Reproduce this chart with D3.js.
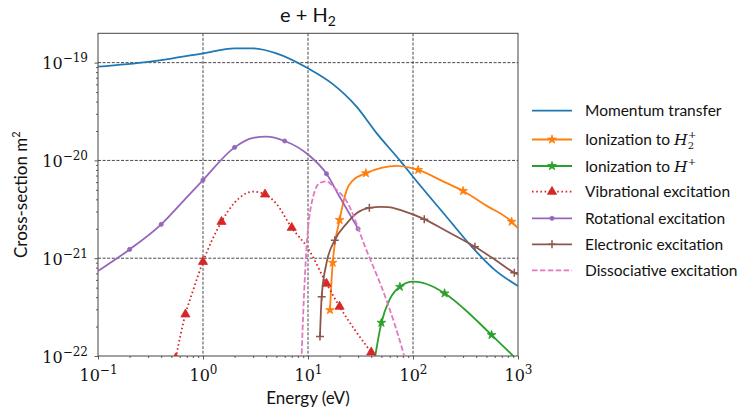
<!DOCTYPE html>
<html>
<head>
<meta charset="utf-8">
<script src="https://cdn.jsdelivr.net/npm/d3@7"></script>
<style>
  body { margin: 0; background: #fff; }
  .lbl { font-family: Lato, "DejaVu Sans", sans-serif; fill: #111; }
  .tk { font-family: "DejaVu Serif", serif; fill: #111; }
</style>
</head>
<body>
<div id="chart"></div>
<script>
// ---- data ----
var momE = [0.1, 0.3, 0.5, 1, 2, 3, 5, 10, 17, 29, 45, 75, 100, 200, 375, 600, 1000];
var momS = [9.1e-20, 1.02e-19, 1.1e-19, 1.245e-19, 1.4e-19, 1.4e-19, 1.245e-19, 8.75e-20, 6.1e-20, 3.55e-20, 1.9e-20, 1.0e-20, 6.8e-21, 2.8e-21, 1.26e-21, 7.6e-22, 5.2e-22];

var ionH2E = [16.2, 17.2, 20, 23.4, 27, 35.6, 50, 70, 100, 112, 200, 300, 500, 870, 1000];
var ionH2S = [2.95e-22, 9.0e-22, 2.46e-21, 5.0e-21, 6.3e-21, 7.4e-21, 8.4e-21, 8.8e-21, 8.3e-21, 8.0e-21, 6.0e-21, 4.87e-21, 3.45e-21, 2.36e-21, 2.02e-21];
var ionH2Marks = [0, 1, 2, 5, 9, 11, 13];

var ionHE = [43, 50, 60, 75, 100, 150, 200, 300, 560, 900, 1000];
var ionHS = [9.0e-23, 2.19e-22, 3.8e-22, 5.1e-22, 5.75e-22, 5.2e-22, 4.37e-22, 3.1e-22, 1.64e-22, 1.0e-22, 8.9e-23];
var ionHMarks = [1, 3, 6, 8];

var vibE = [0.55, 0.68, 0.8, 1, 1.5, 2, 3, 3.9, 5, 7, 10, 15, 20, 40];
var vibS = [0.95e-22, 2.67e-22, 4.6e-22, 9.2e-22, 2.36e-21, 3.7e-21, 4.8e-21, 4.5e-21, 3.6e-21, 2.05e-21, 1.26e-21, 5.5e-22, 3.2e-22, 1.09e-22];
var vibMarks = [0, 1, 3, 4, 7, 9, 11, 12, 13];

var rotE = [0.1, 0.2, 0.4, 0.7, 1, 2, 3, 4, 6, 10, 15, 20, 30];
var rotS = [7.4e-22, 1.23e-21, 2.22e-21, 4.2e-21, 6.3e-21, 1.36e-20, 1.7e-20, 1.75e-20, 1.58e-20, 1.15e-20, 7.3e-21, 4.25e-21, 2.0e-21];
var rotMarks = [1, 2, 4, 5, 8, 10, 12];

var eleE = [13, 13.5, 15, 18, 23.4, 29, 38.4, 50, 58, 80, 128, 200, 389, 600, 922, 1000];
var eleS = [1.58e-22, 4.04e-22, 8.9e-22, 1.53e-21, 2.27e-21, 2.88e-21, 3.28e-21, 3.35e-21, 3.33e-21, 3.05e-21, 2.51e-21, 1.94e-21, 1.31e-21, 9.7e-22, 7.1e-22, 6.8e-22];
var eleMarks = [0, 1, 3, 6, 10, 12, 14];

var disE = [8.5, 9, 9.7, 11.2, 13, 15, 18, 23.4, 36, 56, 81, 90];
var disS = [5e-23, 2.7e-22, 1.31e-21, 4.26e-21, 5.9e-21, 6.1e-21, 5.2e-21, 3.8e-21, 1.21e-21, 3.7e-22, 1.07e-22, 7e-23];

var xTicks = [-1, 0, 1, 2, 3];       // exponents
var yTicks = [-22, -21, -20, -19];
var legendNames = ["Momentum transfer", "Ionization to H2+", "Ionization to H+", "Vibrational excitation",
                   "Rotational excitation", "Electronic excitation", "Dissociative excitation"];

// ---- layout ----
var svgWidth = 753;
var svgHeight = 418;
var margin = { top: 33.3, left: 98 };
var chartWidth = 420;
var chartHeight = 322.7;

var svg = d3.select("#chart")
  .append("svg")
  .attr("width", svgWidth)
  .attr("height", svgHeight);

var chartGroup = svg.append("g")
  .attr("transform", `translate(${margin.left}, ${margin.top})`);

var xScale = d3.scaleLog().domain([0.1, 1000]).range([0, chartWidth]);
var yScale = d3.scaleLog().domain([1e-22, Math.pow(10, -18.7)]).range([chartHeight, 0]);

svg.append("defs").append("clipPath").attr("id", "plotclip")
  .append("rect").attr("width", chartWidth).attr("height", chartHeight);

// minor tick values
function minors(lo, hi) {
  var out = [];
  for (var e = lo; e < hi; e++) {
    for (var k = 2; k < 10; k++) out.push(k * Math.pow(10, e));
  }
  return out;
}

// grid
chartGroup.append("g").selectAll("line.gx")
  .data(xTicks.slice(1, -1))
  .enter().append("line")
  .attr("x1", d => xScale(Math.pow(10, d))).attr("x2", d => xScale(Math.pow(10, d)))
  .attr("y1", 0).attr("y2", chartHeight)
  .attr("stroke", "#333").attr("stroke-width", 0.9).attr("stroke-dasharray", "3,1.6");

chartGroup.append("g").selectAll("line.gy")
  .data(yTicks.slice(1))
  .enter().append("line")
  .attr("y1", d => yScale(Math.pow(10, d))).attr("y2", d => yScale(Math.pow(10, d)))
  .attr("x1", 0).attr("x2", chartWidth)
  .attr("stroke", "#333").attr("stroke-width", 0.9).attr("stroke-dasharray", "3,1.6");

// axes: major ticks
var bottomAxis = d3.axisBottom(xScale).tickValues(xTicks.map(d => Math.pow(10, d)))
  .tickSize(3.5).tickFormat("");
var leftAxis = d3.axisLeft(yScale).tickValues(yTicks.map(d => Math.pow(10, d)))
  .tickSize(3.5).tickFormat("");
var bottomMinor = d3.axisBottom(xScale).tickValues(minors(-1, 3)).tickSize(2).tickFormat("");
var leftMinor = d3.axisLeft(yScale).tickValues(minors(-22, -19)).tickSize(2).tickFormat("");

var xg = chartGroup.append("g").attr("transform", `translate(0, ${chartHeight})`).call(bottomAxis);
chartGroup.append("g").attr("transform", `translate(0, ${chartHeight})`).call(bottomMinor);
var yg = chartGroup.append("g").call(leftAxis);
chartGroup.append("g").call(leftMinor);
chartGroup.selectAll(".domain").remove();
chartGroup.selectAll(".tick line").attr("stroke", "#333").attr("stroke-width", 0.8);

// tick labels 10^n
xg.selectAll(".tick").each(function(d) {
  var t = d3.select(this).append("text").attr("class", "tk")
    .attr("y", 25).attr("text-anchor", "middle").attr("fill", "#111")
    .style("font-size", "16px");
  t.append("tspan").text("10");
  t.append("tspan").attr("dy", -7).style("font-size", "12px")
    .text(String(Math.round(Math.log10(d))).replace("-", "\u2212"));
});
yg.selectAll(".tick").each(function(d) {
  var t = d3.select(this).append("text").attr("class", "tk")
    .attr("x", -10).attr("y", 6).attr("text-anchor", "end").attr("fill", "#111")
    .style("font-size", "16px");
  t.append("tspan").text("10");
  t.append("tspan").attr("dy", -7).style("font-size", "12px")
    .text(String(Math.round(Math.log10(d))).replace("-", "\u2212"));
});

// frame
chartGroup.append("rect")
  .attr("width", chartWidth).attr("height", chartHeight)
  .attr("fill", "none").attr("stroke", "#444").attr("stroke-width", 1);

// ---- series ----
var starPath = d3.symbol().type(d3.symbolStar).size(24)();
var triPath = d3.symbol().type(d3.symbolTriangle).size(36)();
var dotPath = d3.symbol().type(d3.symbolCircle).size(14)();
var plusPath = "M-4,0H4M0,-4V4";

var series = [
  { name: legendNames[0], E: momE, S: momS, color: "#1f77b4", dash: null, marks: [], marker: null },
  { name: legendNames[1], E: ionH2E, S: ionH2S, color: "#ff7f0e", dash: null, marks: ionH2Marks, marker: starPath },
  { name: legendNames[2], E: ionHE, S: ionHS, color: "#2ca02c", dash: null, marks: ionHMarks, marker: starPath },
  { name: legendNames[3], E: vibE, S: vibS, color: "#d62728", dash: "1.6,2.6", marks: vibMarks, marker: triPath },
  { name: legendNames[4], E: rotE, S: rotS, color: "#9467bd", dash: null, marks: rotMarks, marker: dotPath },
  { name: legendNames[5], E: eleE, S: eleS, color: "#8c564b", dash: null, marks: eleMarks, marker: plusPath, plus: true },
  { name: legendNames[6], E: disE, S: disS, color: "#e377c2", dash: "5.5,2.4", marks: [], marker: null }
];

var plotArea = chartGroup.append("g").attr("clip-path", "url(#plotclip)");
var line = d3.line().x(d => xScale(d[0])).y(d => yScale(d[1])).curve(d3.curveMonotoneX);

series.forEach(function(s) {
  var pts = s.E.map((e, i) => [e, s.S[i]]);
  plotArea.append("path")
    .datum(pts)
    .attr("d", line)
    .attr("fill", "none")
    .attr("stroke", s.color)
    .attr("stroke-width", 1.8)
    .attr("stroke-dasharray", s.dash);
  plotArea.selectAll(null)
    .data(s.marks.map(i => pts[i]))
    .enter().append("path")
    .attr("d", s.marker)
    .attr("transform", d => `translate(${xScale(d[0])}, ${yScale(d[1])})`)
    .attr("fill", s.plus ? "none" : s.color)
    .attr("stroke", s.color)
    .attr("stroke-width", s.plus ? 1.5 : 0.8);
});

// ---- legend ----
var legendY = [110.7, 139.5, 166, 191.7, 218.3, 244.3, 270.3];
var legend = svg.append("g");
series.forEach(function(s, i) {
  var g = legend.append("g").attr("transform", `translate(532, ${legendY[i]})`);
  g.append("line").attr("x1", 0).attr("x2", 40)
    .attr("stroke", s.color).attr("stroke-width", 1.8).attr("stroke-dasharray", s.dash);
  if (s.marker) {
    g.append("path").attr("d", s.marker).attr("transform", "translate(20,0)")
      .attr("fill", s.plus ? "none" : s.color).attr("stroke", s.color)
      .attr("stroke-width", s.plus ? 1.5 : 0.8);
  }
  var t = g.append("text").attr("class", "lbl").attr("x", 53).attr("y", 5.5)
    .style("font-size", "15.5px");
  if (i === 1) {
    t.append("tspan").text("Ionization to ");
    t.append("tspan").style("font-family", "DejaVu Serif").style("font-style", "italic").text("H");
    t.append("tspan").attr("dy", 4).style("font-size", "10px").style("font-family", "DejaVu Serif").text("2");
    t.append("tspan").attr("dx", -6).attr("dy", -11).style("font-size", "10px").style("font-family", "DejaVu Serif").text("+");
  } else if (i === 2) {
    t.append("tspan").text("Ionization to ");
    t.append("tspan").style("font-family", "DejaVu Serif").style("font-style", "italic").text("H");
    t.append("tspan").attr("dy", -7).style("font-size", "10px").style("font-family", "DejaVu Serif").text("+");
  } else {
    t.text(s.name);
  }
});

// ---- title and axis labels ----
var title = svg.append("text").attr("class", "lbl")
  .attr("x", margin.left + chartWidth / 2).attr("y", 22)
  .attr("text-anchor", "middle").style("font-size", "20px");
title.append("tspan").text("e + H");
title.append("tspan").attr("dy", 4).style("font-size", "14px").text("2");

svg.append("text").attr("class", "lbl")
  .attr("x", margin.left + chartWidth / 2).attr("y", 404)
  .attr("text-anchor", "middle").style("font-size", "17px")
  .text("Energy (eV)");

var ylab = svg.append("text").attr("class", "lbl")
  .attr("transform", `translate(27, ${margin.top + chartHeight / 2}) rotate(-90)`)
  .attr("text-anchor", "middle").style("font-size", "17px");
ylab.append("tspan").text("Cross-section m");
ylab.append("tspan").attr("dy", -7).style("font-size", "11px").text("2");
</script>
</body>
</html>
